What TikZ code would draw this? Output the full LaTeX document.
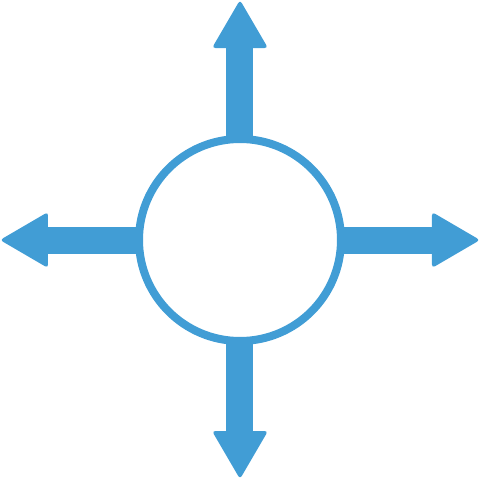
\documentclass[tikz,border=0pt]{standalone}
\usetikzlibrary{calc}
\definecolor{arrblue}{RGB}{65,157,213}
\begin{document}
\begin{tikzpicture}[x=0.75pt,y=-0.75pt,
  shaft/.style={draw=arrblue,line width=20.25pt,line cap=butt},
  headfill/.style={fill=arrblue,rounded corners=2.5pt},
  ring/.style={circle,draw=arrblue,fill=white,line width=6pt,minimum size=151.5pt,inner sep=0pt}]
\useasboundingbox (0,0) rectangle (480,479);
\coordinate (o) at (240,240);
\coordinate (tN) at (240,0);
\coordinate (tS) at (240,479);
\coordinate (tW) at (0,240);
\coordinate (tE) at (480,240);
% shafts
\draw[shaft] (o) -- ($(tN)+(0,44)$);
\draw[shaft] (o) -- ($(tS)+(0,-44)$);
\draw[shaft] (o) -- ($(tW)+(44,0)$);
\draw[shaft] (o) -- ($(tE)+(-44,0)$);
% heads
\fill[headfill] ($(tN)+(0,48)$) -- ($(tN)+(28,48)$) -- (tN) -- ($(tN)+(-28,48)$) -- cycle;
\fill[headfill] ($(tS)+(0,-48)$) -- ($(tS)+(28,-48)$) -- (tS) -- ($(tS)+(-28,-48)$) -- cycle;
\fill[headfill] ($(tW)+(48,0)$) -- ($(tW)+(48,28)$) -- (tW) -- ($(tW)+(48,-28)$) -- cycle;
\fill[headfill] ($(tE)+(-48,0)$) -- ($(tE)+(-48,28)$) -- (tE) -- ($(tE)+(-48,-28)$) -- cycle;
% ring
\node[ring] (c) at (o) {};
\end{tikzpicture}
\end{document}
